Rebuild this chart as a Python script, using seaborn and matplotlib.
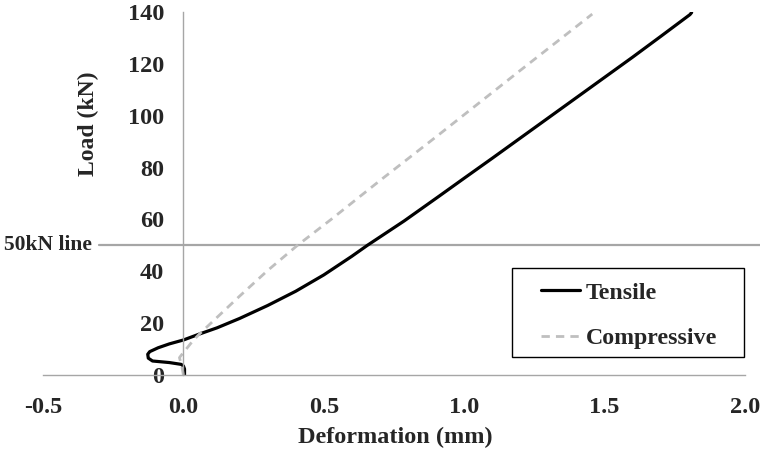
import numpy as np
import pandas as pd
import matplotlib
matplotlib.use("Agg")
import matplotlib.pyplot as plt
from matplotlib.patches import Rectangle
import seaborn as sns

# ---- data ----
tensile_x = [0.004, 0.004, 0.0, -0.008, -0.05, -0.11, -0.125, -0.127, -0.12, -0.09, -0.05, 0.0,
             0.057, 0.12, 0.2, 0.3, 0.4, 0.5, 0.6, 0.655, 0.786, 0.911, 1.0, 1.1, 1.2, 1.3,
             1.4, 1.5, 1.6, 1.7, 1.804, 1.81]
tensile_y = [0.0, 2.3, 3.5, 4.1, 4.8, 5.4, 6.5, 8.0, 9.0, 10.5, 12.0, 13.5,
             15.8, 18.2, 21.8, 26.8, 32.3, 38.6, 45.8, 50.0, 59.4, 69.0, 75.9, 83.6, 91.4, 99.2,
             107.0, 114.8, 122.6, 130.6, 139.0, 139.8]
comp_x = [0.0, -0.005, -0.014, -0.005, 0.01, 0.033, 0.057, 0.1, 0.2, 0.3, 0.406, 0.526,
          0.7, 0.911, 1.2, 1.456]
comp_y = [0.0, 3.0, 6.7, 8.0, 10.0, 13.1, 15.8, 20.2, 30.4, 40.3, 50.0, 60.0,
          75.0, 92.8, 117.5, 139.2]
series_names = ["Tensile", "Compressive"]
ref_load = 50
ref_label = "50kN line"
x_ticks = [-0.5, 0.0, 0.5, 1.0, 1.5, 2.0]
y_ticks = [0, 20, 40, 60, 80, 100, 120, 140]
x_label = "Deformation (mm)"
y_label = "Load (kN)"

sns.set_theme(style="white")
plt.rcParams["font.family"] = ["Liberation Serif", "DejaVu Serif"]
plt.rcParams["font.weight"] = "bold"

FS = 17.5

df_t = pd.DataFrame({"x": tensile_x, "y": tensile_y, "series": series_names[0]})
df_c = pd.DataFrame({"x": comp_x, "y": comp_y, "series": series_names[1]})

fig = plt.figure(figsize=(7.6, 4.51), dpi=100)
ax = fig.add_axes([43 / 760, 1 - 375 / 451, (745 - 43) / 760, (375 - 12) / 451])

sns.lineplot(data=df_t, x="x", y="y", sort=False, estimator=None, ax=ax,
             color="black", linewidth=2.3, label=series_names[0])
sns.lineplot(data=df_c, x="x", y="y", sort=False, estimator=None, ax=ax,
             color="#BFBFBF", linewidth=2.0, label=series_names[1])
ax.lines[-1].set_dashes([3.0, 2.2])

for s in ["top", "right"]:
    ax.spines[s].set_visible(False)
ax.spines["left"].set_position(("data", 0))
ax.spines["left"].set_color("#A6A6A6")
ax.spines["bottom"].set_color("#A6A6A6")
ax.spines["left"].set_linewidth(1.0)
ax.spines["bottom"].set_linewidth(1.0)
ax.grid(False)

ax.set_xlim(-0.5, 2.0)
ax.set_ylim(0, 140)
ax.set_xticks(x_ticks)
ax.set_yticks(y_ticks)
ax.set_xticklabels([f"{v:.1f}" for v in x_ticks])
ax.set_yticklabels([str(v) for v in y_ticks])
ax.tick_params(axis="both", length=0, labelsize=FS)
ax.tick_params(axis="x", pad=16)
ax.tick_params(axis="y", pad=14)
for lab in ax.get_xticklabels() + ax.get_yticklabels():
    lab.set_fontweight("bold")

ax.set_xlabel("")
ax.set_ylabel("")
fig.text(395 / 760, 1 - 437 / 451, x_label, ha="center", va="center",
         fontsize=FS, fontweight="bold")
fig.text(88 / 760, 1 - 124 / 451, y_label, ha="center", va="center",
         rotation=90, fontsize=FS - 0.5, fontweight="bold")

# 50 kN reference line
ax.plot([-0.299, 2.06], [ref_load, ref_load], color="#A6A6A6", linewidth=1.6,
        clip_on=False, zorder=1)
ax.text(-0.327, ref_load, ref_label, ha="right", va="center", fontsize=15.5,
        fontweight="bold", clip_on=False)

# legend
leg = ax.legend(loc="upper left", bbox_to_anchor=((542 - 43) / 702 - 0.001, (375 - 282) / 363),
                borderaxespad=0, frameon=False, fontsize=FS - 0.3, handlelength=1.6,
                handletextpad=0.25, labelspacing=1.0, borderpad=0)
for t in leg.get_texts():
    t.set_fontweight("bold")
ax.add_patch(Rectangle(((512 - 43) / 702, (375 - 357) / 363), (744 - 512) / 702, (357 - 268) / 363,
                       transform=ax.transAxes, fill=False, edgecolor="black",
                       linewidth=1.0, clip_on=False, zorder=5))

fig.savefig("out.png", dpi=100)
